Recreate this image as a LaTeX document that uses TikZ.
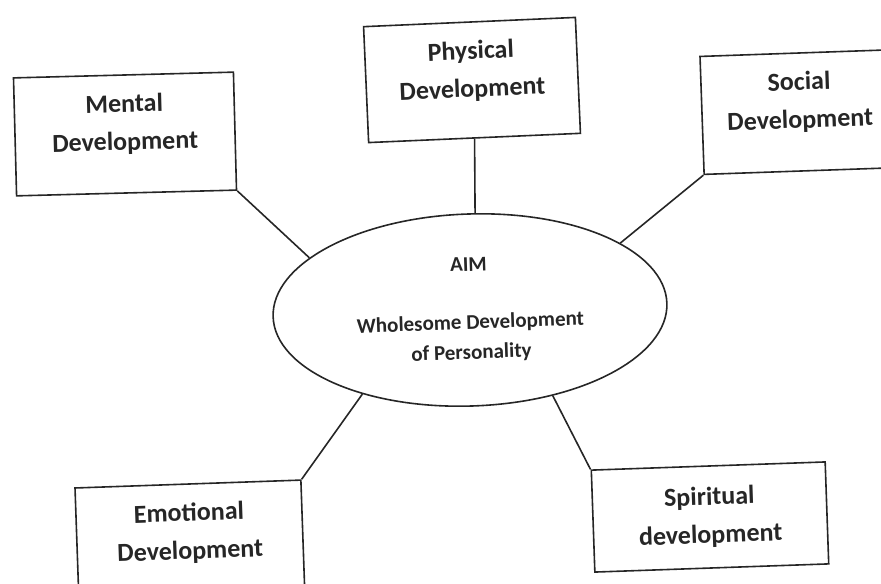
\documentclass[tikz,border=0pt]{standalone}
\usepackage{fontspec}
\setmainfont{Carlito}
\usetikzlibrary{shapes.geometric}

\begin{document}
\begin{tikzpicture}[
        x=0.5pt, y=-0.5pt,
        devbox/.style={rectangle, draw=black!85, line width=0.8pt, text=black!85, align=center,
            font=\bfseries\fontsize{13}{19}\selectfont, rotate=2},
        aimoval/.style={ellipse, draw=black!85, line width=0.8pt, text=black!85, align=center,
            font=\bfseries\fontsize{10.5}{15}\selectfont, rotate=2},
        link/.style={draw=black!85, line width=0.8pt}
    ]
    \clip (0,0) rectangle (881,583);
    \useasboundingbox (0,0) rectangle (881,583);

    % centre - aim
    \node[aimoval, minimum width=197pt, minimum height=96pt] (aim) at (470,310)
        {AIM\\[14pt]Wholesome Development\\of Personality};

    % the five sides
    \node[devbox, minimum width=110pt, minimum height=59pt, rotate=-0.5] (mental) at (125,134)
        {Mental\\Development\\[-7pt]\mbox{}};
    \node[devbox, minimum width=106pt, minimum height=58pt, rotate=0.5] (physical) at (472,80)
        {Physical\\Development\\[-8pt]\mbox{}};
    \node[devbox, minimum width=98pt, minimum height=59pt] (social) at (800,112)
        {Social\\Development\\[-7pt]\mbox{}};
    \node[devbox, minimum width=113pt, minimum height=59pt] (emotional) at (190,543)
        {Emotional\\Development\\[-7pt]\mbox{}};
    \node[devbox, minimum width=117pt, minimum height=51pt] (spiritual) at (710,517)
        {Spiritual\\development};

    \draw[link] (mental.south east) -- (aim.160);
    \draw[link] (physical.south) -- (aim.85);
    \draw[link] (social.south west) -- (aim.22);
    \draw[link] (emotional.north east) -- (aim.216);
    \draw[link] (spiritual.north west) -- (aim.312);
\end{tikzpicture}
\end{document}
